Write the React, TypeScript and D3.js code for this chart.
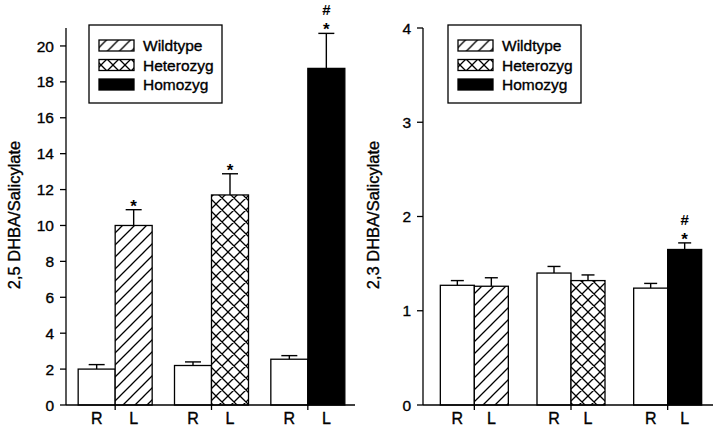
import * as d3 from "d3";

const groups = ["Wildtype", "Heterozyg", "Homozyg"];
const sides = ["R", "L"];

// left panel: 2,5 DHBA / Salicylate
const leftR = [2.0, 2.2, 2.55];
const leftRErr = [0.25, 0.2, 0.2];
const leftL = [10.0, 11.7, 18.75];
const leftLErr = [0.88, 1.18, 1.95];
const leftMarks = [["*"], ["*"], ["*", "#"]];

// right panel: 2,3 DHBA / Salicylate
const rightR = [1.27, 1.4, 1.24];
const rightRErr = [0.05, 0.07, 0.05];
const rightL = [1.26, 1.32, 1.65];
const rightLErr = [0.09, 0.06, 0.07];
const rightMarks = [[], [], ["*", "#"]];

const leftTicks = [0, 2, 4, 6, 8, 10, 12, 14, 16, 18, 20];
const rightTicks = [0, 1, 2, 3, 4];

const FONT = "'Liberation Sans', Arial, sans-serif";
const fills = ["url(#diag)", "url(#cross)", "#000"];
// scanned text looks a bit heavy
const ink = { fill: "#000", stroke: "#000", strokeWidth: 0.35 };

type PanelProps = {
  title: string;
  rVals: number[];
  rErr: number[];
  lVals: number[];
  lErr: number[];
  marks: string[][];
  ticks: number[];
  yMax: number;
  axisX: number;
  axisEnd: number;
  band: [number, number];
  barW: number;
  capW: number;
  titleX: number;
  legendX: number;
};

function Panel(p: PanelProps) {
  const y0 = 405;
  const yTop = 28;
  const y = d3.scaleLinear().domain([0, p.yMax]).range([y0, yTop]);
  const x = d3.scaleBand().domain(groups).range(p.band);
  const center = (g: string) => (x(g) || 0) + x.bandwidth() / 2;

  const bars = groups.flatMap((g, i) => [
    { g, i, side: 0, v: p.rVals[i], e: p.rErr[i], fill: "#fff" },
    { g, i, side: 1, v: p.lVals[i], e: p.lErr[i], fill: fills[i] },
  ]);

  return (
    <g>
      {/* bars */}
      {bars.map((b, k) => {
        const bx = b.side === 0 ? center(b.g) - p.barW : center(b.g);
        const cx = bx + p.barW / 2;
        const top = y(b.v);
        const cap = y(b.v + b.e);
        return (
          <g key={k}>
            <line x1={cx} x2={cx} y1={top} y2={cap} stroke="#000" strokeWidth={1.4} />
            <line x1={cx - p.capW / 2} x2={cx + p.capW / 2} y1={cap} y2={cap} stroke="#000" strokeWidth={1.4} />
            <rect x={bx} y={top} width={p.barW} height={y0 - top} fill={b.fill} stroke="#000" strokeWidth={1.3} />
            {b.side === 1 &&
              p.marks[b.i].map((m, j) => (
                <text
                  key={j}
                  x={cx}
                  y={cap + 2 - j * 20}
                  textAnchor="middle"
                  fontSize={j === 0 ? 17 : 15}
                  fontWeight="bold"
                  fontFamily={FONT}
                >
                  {m}
                </text>
              ))}
          </g>
        );
      })}

      {/* y axis */}
      <line x1={p.axisX} x2={p.axisX} y1={y0} y2={yTop} stroke="#000" strokeWidth={1.3} />
      {p.ticks.map((t) => (
        <g key={t}>
          <line x1={p.axisX - 6} x2={p.axisX} y1={y(t)} y2={y(t)} stroke="#000" strokeWidth={1.3} />
          <text x={p.axisX - 12} y={y(t)} dy="0.36em" textAnchor="end" fontSize={15.5} fontFamily={FONT} {...ink}>
            {t}
          </text>
        </g>
      ))}

      {/* x axis */}
      <line x1={p.axisX} x2={p.axisEnd} y1={y0} y2={y0} stroke="#000" strokeWidth={1.3} />
      {groups.map((g) => (
        <g key={g}>
          <line x1={center(g)} x2={center(g)} y1={y0} y2={y0 + 5} stroke="#000" strokeWidth={1.3} />
          {sides.map((s, j) => (
            <text
              key={s}
              x={center(g) + (j === 0 ? -p.barW / 2 : p.barW / 2)}
              y={423.5}
              textAnchor="middle"
              fontSize={16}
              fontFamily={FONT}
              {...ink}
            >
              {s}
            </text>
          ))}
        </g>
      ))}

      {/* axis title */}
      <text
        transform={`translate(${p.titleX},215) rotate(-90)`}
        textAnchor="middle"
        fontSize={16.5}
        fontFamily={FONT}
        {...ink}
      >
        {p.title}
      </text>

      {/* legend */}
      <g transform={`translate(${p.legendX},25)`}>
        <rect x={0} y={0} width={133} height={78} fill="#fff" stroke="#000" strokeWidth={1.3} />
        {groups.map((g, i) => (
          <g key={g} transform={`translate(0,${20.5 + i * 19.5})`}>
            <rect x={10} y={-5.5} width={35} height={11} fill={fills[i]} stroke="#000" strokeWidth={1.3} />
            <text x={54} y={0} dy="0.36em" fontSize={15.5} fontFamily={FONT} {...ink}>
              {g}
            </text>
          </g>
        ))}
      </g>
    </g>
  );
}

export default function App() {
  return (
    <svg
      width={720}
      height={429}
      style={{ position: "absolute", left: 0, top: 0, background: "#fff" }}
    >
      <defs>
        <pattern id="diag" patternUnits="userSpaceOnUse" width={12} height={12}>
          <rect width={12} height={12} fill="#fff" />
          <path d="M-3,3 L3,-3 M0,12 L12,0 M9,15 L15,9" stroke="#000" strokeWidth={1.3} />
        </pattern>
        <pattern id="cross" patternUnits="userSpaceOnUse" width={12} height={12}>
          <rect width={12} height={12} fill="#fff" />
          <path
            d="M-3,3 L3,-3 M0,12 L12,0 M9,15 L15,9 M-3,9 L3,15 M0,0 L12,12 M9,-3 L15,3"
            stroke="#000"
            strokeWidth={1.3}
          />
        </pattern>
      </defs>
      <rect width={720} height={429} fill="#fff" />
      <Panel
        title="2,5 DHBA/Salicylate"
        rVals={leftR}
        rErr={leftRErr}
        lVals={leftL}
        lErr={leftLErr}
        marks={leftMarks}
        ticks={leftTicks}
        yMax={21}
        axisX={66}
        axisEnd={355}
        band={[67, 356]}
        barW={37}
        capW={16}
        titleX={20}
        legendX={89}
      />
      <Panel
        title="2,3 DHBA/Salicylate"
        rVals={rightR}
        rErr={rightRErr}
        lVals={rightL}
        lErr={rightLErr}
        marks={rightMarks}
        ticks={rightTicks}
        yMax={4}
        axisX={423}
        axisEnd={713}
        band={[426, 716]}
        barW={34}
        capW={13}
        titleX={379}
        legendX={448}
      />
    </svg>
  );
}
